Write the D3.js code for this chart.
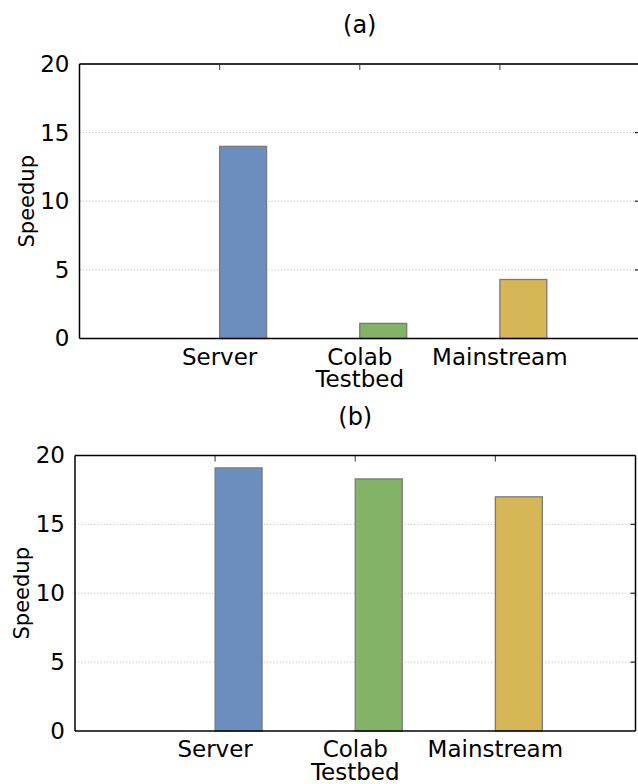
<!DOCTYPE html>
<html>
<head>
<meta charset="utf-8">
<script src="https://cdn.jsdelivr.net/npm/d3@7"></script>
<style>
  html, body { margin: 0; padding: 0; background: #fff; }
  svg { display: block; font-family: "DejaVu Sans", sans-serif; }
</style>
</head>
<body>
<svg id="chart" width="638" height="784"></svg>
<script>
// Speedup per deployment setting, two experiments
const categories = ["Server", "Colab\nTestbed", "Mainstream"];
const speedupA = [14.0, 1.1, 4.3];
const speedupB = [19.1, 18.3, 17.0];
const yTicks = [0, 5, 10, 15, 20];
const gridTicks = [5, 10, 15];
const panelTitles = ["(a)", "(b)"];
const barFills = ["#6c8ebf", "#82b366", "#d6b656"];

const svg = d3.select("#chart");

function drawPanel(values, title, box, opts) {
  const x = d3.scaleLinear().domain([-1, 3]).range([box.left, box.right]);
  const y = d3.scaleLinear().domain([0, 20]).range([box.bottom, box.top]);
  const barW = 0.335;
  const g = svg.append("g");

  // dotted horizontal grid
  g.append("g").selectAll("line").data(gridTicks).join("line")
    .attr("x1", box.left).attr("x2", box.right)
    .attr("y1", d => y(d)).attr("y2", d => y(d))
    .attr("stroke", "#b8b8b8").attr("stroke-width", 1)
    .attr("stroke-dasharray", "1,2.2");

  // bars start at each category position
  g.append("g").selectAll("rect").data(values).join("rect")
    .attr("x", (d, i) => x(i))
    .attr("width", x(barW) - x(0))
    .attr("y", d => y(d))
    .attr("height", d => y(0) - y(d))
    .attr("fill", (d, i) => barFills[i])
    .attr("stroke", "#7a7a7a").attr("stroke-width", 1.3);

  // y axis labels
  const yAxis = g.append("g")
    .attr("transform", `translate(${box.left},0)`)
    .call(d3.axisLeft(y).tickValues(yTicks).tickSize(0).tickPadding(10));
  yAxis.select(".domain").remove();
  yAxis.selectAll("text").attr("font-size", 23).attr("fill", "#000")
    .attr("font-family", "DejaVu Sans, sans-serif");

  // inward ticks on the right side
  g.append("g").selectAll("line").data(gridTicks).join("line")
    .attr("x1", box.right - 5).attr("x2", box.right)
    .attr("y1", d => y(d)).attr("y2", d => y(d))
    .attr("stroke", "#222").attr("stroke-width", 1.2);

  // inward ticks along the top at category positions
  g.append("g").selectAll("line").data(categories).join("line")
    .attr("x1", (d, i) => x(i)).attr("x2", (d, i) => x(i))
    .attr("y1", box.top).attr("y2", box.top + 6)
    .attr("stroke", "#555").attr("stroke-width", 1.2);

  // frame
  g.append("line").attr("x1", box.left).attr("x2", box.right)
    .attr("y1", box.top).attr("y2", box.top)
    .attr("stroke", opts.topColor).attr("stroke-width", opts.topWidth);
  g.append("line").attr("x1", box.right).attr("x2", box.right)
    .attr("y1", box.top).attr("y2", box.bottom)
    .attr("stroke", "#000").attr("stroke-width", 1.5);
  g.append("line").attr("x1", box.left).attr("x2", box.left)
    .attr("y1", box.top).attr("y2", box.bottom)
    .attr("stroke", "#000").attr("stroke-width", 1.5);
  g.append("line").attr("x1", box.left).attr("x2", box.right)
    .attr("y1", box.bottom).attr("y2", box.bottom)
    .attr("stroke", "#000").attr("stroke-width", 1.5);

  // category labels (may span two lines)
  const labels = g.append("g").selectAll("text").data(categories).join("text")
    .attr("x", (d, i) => x(i))
    .attr("y", box.bottom + 26)
    .attr("text-anchor", "middle")
    .attr("font-size", 23).attr("fill", "#000");
  labels.selectAll("tspan").data(d => d.split("\n")).join("tspan")
    .attr("x", function () { return d3.select(this.parentNode).attr("x"); })
    .attr("dy", (d, i) => i === 0 ? 0 : 22.5)
    .text(d => d);

  // y axis title
  g.append("text")
    .attr("transform", `translate(${box.left - 46},${(box.top + box.bottom) / 2}) rotate(-90)`)
    .attr("text-anchor", "middle")
    .attr("font-size", 21).attr("fill", "#000")
    .text("Speedup");

  // panel title
  g.append("text")
    .attr("x", (box.left + box.right) / 2)
    .attr("y", box.top - 31)
    .attr("text-anchor", "middle")
    .attr("font-size", 24).attr("fill", "#000")
    .text(title);
}

drawPanel(speedupA, panelTitles[0],
  { left: 79.5, right: 640, top: 64, bottom: 338.5 },
  { topColor: "#333", topWidth: 2.2 });
drawPanel(speedupB, panelTitles[1],
  { left: 75, right: 635.5, top: 455.5, bottom: 731 },
  { topColor: "#000", topWidth: 1.5 });
</script>
</body>
</html>
